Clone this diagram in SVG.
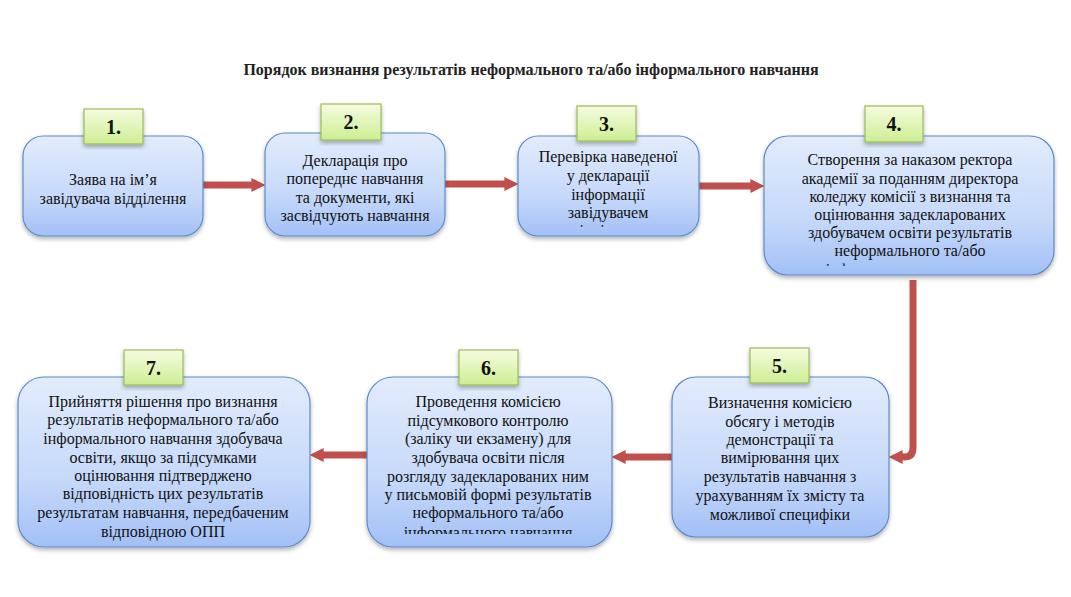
<svg xmlns="http://www.w3.org/2000/svg" width="1071" height="597" viewBox="0 0 1071 597">
<style>
.box{fill:url(#gBox);stroke:#5b8bc9;stroke-width:1.2;filter:url(#sh)}
.lab{fill:url(#gLab);stroke:#9bbb59;stroke-width:1.2;filter:url(#sh)}
.t{font-family:"Liberation Serif","Times New Roman","DejaVu Serif",serif;font-size:16px;fill:#111;text-anchor:middle}
.n{font-family:"Liberation Serif","Times New Roman","DejaVu Serif",serif;font-size:20px;font-weight:bold;fill:#111;text-anchor:middle}
.title{font-family:"Liberation Serif","Times New Roman","DejaVu Serif",serif;font-size:16px;font-weight:bold;fill:#222;text-anchor:middle}
.arr{fill:none;stroke:#c0504d;stroke-width:7;marker-end:url(#ah)}
</style>
<defs>
<linearGradient id="gBox" x1="0" y1="0" x2="0" y2="1">
<stop offset="0" stop-color="#e2ecfc"/>
<stop offset="0.6" stop-color="#c6d9fa"/>
<stop offset="1" stop-color="#a2c0f6"/>
</linearGradient>
<linearGradient id="gLab" x1="0" y1="0" x2="0" y2="1">
<stop offset="0" stop-color="#f6fce0"/>
<stop offset="1" stop-color="#cdee92"/>
</linearGradient>
<filter id="sh" x="-10%" y="-10%" width="120%" height="125%">
<feDropShadow dx="0" dy="2.5" stdDeviation="2" flood-color="#000" flood-opacity="0.3"/>
</filter>
<marker id="ah" viewBox="0 0 10 10" refX="4" refY="5" markerWidth="2" markerHeight="2.6" orient="auto" markerUnits="strokeWidth">
<path d="M0,0 L10,5 L0,10 z" fill="#c0504d"/>
</marker>
<clipPath id="c3"><rect x="518" y="136" width="181" height="91"/></clipPath>
<clipPath id="c4"><rect x="764" y="136" width="290" height="130"/></clipPath>
<clipPath id="c6"><rect x="367" y="377" width="245" height="157"/></clipPath>
</defs>
<rect width="1071" height="597" fill="#fff"/>
<text class="title" x="531" y="75">Порядок визнання результатів неформального та/або інформального навчання</text>

<g id="connectors">
<path class="arr" d="M203,185 L257,185"/>
<path class="arr" d="M445,184 L510,184"/>
<path class="arr" d="M699,186 L756,186"/>
<path class="arr" d="M913,280 L913,448 Q913,457 904,457 L897,457"/>
<path class="arr" d="M672,457 L620,457"/>
<path class="arr" d="M367,455 L318,455"/>
</g>

<g id="node1">
<rect class="box" x="23" y="136" width="180" height="100" rx="20"/>
<rect class="lab" x="84" y="109" width="59" height="35"/>
<text class="n" x="113.5" y="134">1.</text>
<text class="t" x="113" y="185">Заява на ім’я</text>
<text class="t" x="113" y="204">завідувача відділення</text>
</g>

<g id="node2">
<rect class="box" x="265" y="133" width="180" height="103" rx="20"/>
<rect class="lab" x="321" y="104" width="60" height="36"/>
<text class="n" x="351" y="129">2.</text>
<text class="t" x="355" y="166">Декларація про</text>
<text class="t" x="355" y="184">попереднє навчання</text>
<text class="t" x="355" y="203">та документи, які</text>
<text class="t" x="355" y="221">засвідчують навчання</text>
</g>

<g id="node3">
<rect class="box" x="518" y="136" width="181" height="100" rx="20"/>
<rect class="lab" x="577" y="106" width="59" height="35"/>
<text class="n" x="606.5" y="131">3.</text>
<g clip-path="url(#c3)">
<text class="t" x="608" y="162">Перевірка наведеної</text>
<text class="t" x="608" y="181">у декларації</text>
<text class="t" x="608" y="200">інформації</text>
<text class="t" x="608" y="218">завідувачем</text>
<text class="t" x="608" y="236">відділення</text>
</g>
</g>

<g id="node4">
<rect class="box" x="764" y="136" width="290" height="139" rx="24"/>
<rect class="lab" x="865" y="106" width="58" height="36"/>
<text class="n" x="894" y="131">4.</text>
<g clip-path="url(#c4)">
<text class="t" x="910" y="165">Створення за наказом ректора</text>
<text class="t" x="910" y="184">академії за поданням директора</text>
<text class="t" x="910" y="202">коледжу  комісії з визнання та</text>
<text class="t" x="910" y="220">оцінювання задекларованих</text>
<text class="t" x="910" y="238">здобувачем освіти результатів</text>
<text class="t" x="910" y="256">неформального та/або</text>
<text class="t" x="910" y="275">інформального навчання</text>
</g>
</g>

<g id="node5">
<rect class="box" x="672" y="377" width="217" height="160" rx="24"/>
<rect class="lab" x="750" y="348" width="59" height="35"/>
<text class="n" x="779.5" y="373">5.</text>
<text class="t" x="780" y="408">Визначення комісією</text>
<text class="t" x="780" y="427">обсягу і методів</text>
<text class="t" x="780" y="445">демонстрації та</text>
<text class="t" x="780" y="463">вимірювання цих</text>
<text class="t" x="780" y="482">результатів  навчання з</text>
<text class="t" x="780" y="501">урахуванням їх  змісту  та</text>
<text class="t" x="780" y="520">можливої специфіки</text>
</g>

<g id="node6">
<rect class="box" x="367" y="377" width="245" height="170" rx="26"/>
<rect class="lab" x="459" y="350" width="59" height="35"/>
<text class="n" x="488.5" y="375">6.</text>
<g clip-path="url(#c6)">
<text class="t" x="488" y="407">Проведення комісією</text>
<text class="t" x="488" y="426">підсумкового контролю</text>
<text class="t" x="488" y="444">(заліку чи екзамену) для</text>
<text class="t" x="488" y="463">здобувача освіти після</text>
<text class="t" x="488" y="482">розгляду задекларованих ним</text>
<text class="t" x="488" y="500">у письмовій формі результатів</text>
<text class="t" x="488" y="518">неформального та/або</text>
<text class="t" x="488" y="538">інформального навчання</text>
</g>
</g>

<g id="node7">
<rect class="box" x="18" y="377" width="292" height="170" rx="26"/>
<rect class="lab" x="124" y="350" width="59" height="35"/>
<text class="n" x="153.5" y="375">7.</text>
<text class="t" x="163" y="407">Прийняття  рішення про визнання</text>
<text class="t" x="163" y="425">результатів  неформального та/або</text>
<text class="t" x="163" y="444">інформального навчання здобувача</text>
<text class="t" x="163" y="463">освіти, якщо за підсумками</text>
<text class="t" x="163" y="481">оцінювання підтверджено</text>
<text class="t" x="163" y="499">відповідність цих результатів</text>
<text class="t" x="163" y="518">результатам  навчання, передбаченим</text>
<text class="t" x="163" y="537">відповідною ОПП</text>
</g>
</svg>
